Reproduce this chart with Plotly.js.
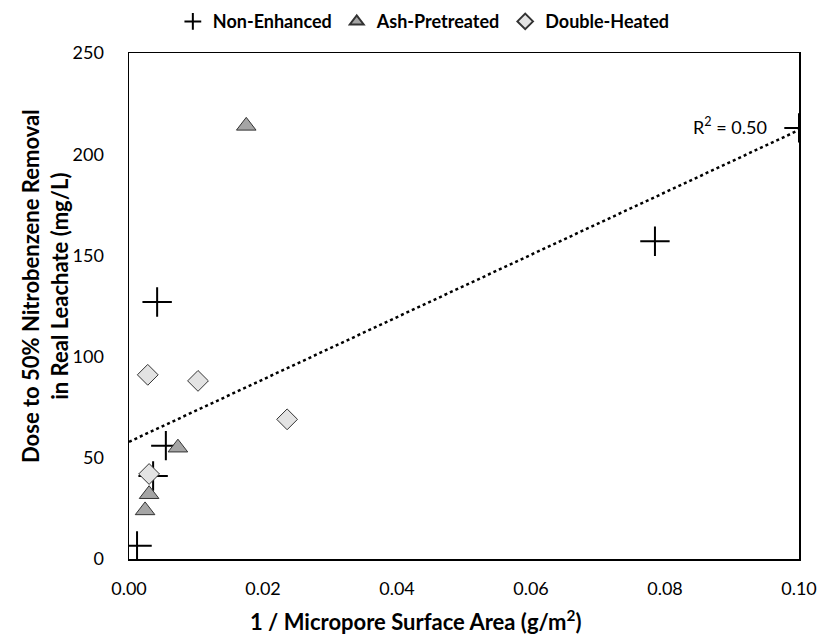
<!DOCTYPE html>
<html>
<head>
<meta charset="utf-8">
<script src="https://cdn.plot.ly/plotly-3.0.1.min.js"></script>
<style>html,body{margin:0;padding:0;background:#fff;}#chart{width:823px;height:637px;}</style>
</head>
<body>
<div id="chart"></div>
<script>
// Data
const nonEnhancedX = [0.0012, 0.0042, 0.0055, 0.0036, 0.0785, 0.1000];
const nonEnhancedY = [6.5, 127, 56, 41, 157, 213];
const ashX = [0.0175, 0.0073, 0.0030, 0.0024];
const ashY = [214, 55, 32, 24];
const doubleX = [0.0028, 0.0103, 0.0030, 0.0236];
const doubleY = [91, 88, 42, 69];
const seriesNames = ["Non-Enhanced", "Ash-Pretreated", "Double-Heated"];
const xTicks = [0, 0.02, 0.04, 0.06, 0.08, 0.10];
const xTickText = ["0.00", "0.02", "0.04", "0.06", "0.08", "0.10"];
const yTicks = [0, 50, 100, 150, 200, 250];
const xTitle = "1 / Micropore Surface Area (g/m<sup>2</sup>)";
const yTitle = "Dose to 50% Nitrobenzene Removal<br>in Real Leachate (mg/L)";

// Linear trendline over all points
const allX = nonEnhancedX.concat(ashX, doubleX);
const allY = nonEnhancedY.concat(ashY, doubleY);
const n = allX.length;
const mx = allX.reduce((a, b) => a + b, 0) / n;
const my = allY.reduce((a, b) => a + b, 0) / n;
let sxy = 0, sxx = 0, syy = 0;
for (let i = 0; i < n; i++) {
  sxy += (allX[i] - mx) * (allY[i] - my);
  sxx += (allX[i] - mx) ** 2;
  syy += (allY[i] - my) ** 2;
}
const slope = sxy / sxx;
const intercept = my - slope * mx;
const r2 = (sxy * sxy) / (sxx * syy);
const trendX = [0, 0.10];
const trendY = trendX.map(x => intercept + slope * x);

const font = "Lato, 'Open Sans', sans-serif";

const traces = [
  {
    x: trendX, y: trendY, mode: "lines", showlegend: false, hoverinfo: "skip",
    line: {color: "#000", width: 2.5, dash: "dot"}
  },
  {
    x: nonEnhancedX, y: nonEnhancedY, mode: "markers", name: seriesNames[0],
    marker: {symbol: "cross-thin-open", size: 21, color: "#000", line: {color: "#000", width: 2}}
  },
  {
    x: ashX, y: ashY, mode: "markers", name: seriesNames[1],
    marker: {symbol: "triangle-up", size: 17, color: "#a5a5a5", line: {color: "#333", width: 1}}
  },
  {
    x: doubleX, y: doubleY, mode: "markers", name: seriesNames[2],
    marker: {symbol: "diamond", size: 16, color: "#e3e3e3", line: {color: "#333", width: 1}}
  }
];

const layout = {
  width: 823, height: 637,
  margin: {l: 129, r: 24, t: 53, b: 78},
  paper_bgcolor: "#fff", plot_bgcolor: "#fff",
  font: {family: font, size: 18, color: "#000"},
  showlegend: true,
  legend: {
    orientation: "h", x: 0.515, xanchor: "center", y: 0.995, yanchor: "top",
    yref: "container", xref: "container",
    font: {family: font, size: 18, color: "#000", weight: "bold"},
    itemsizing: "constant", itemwidth: 30, tracegroupgap: 0
  },
  xaxis: {
    range: [0, 0.10], tickvals: xTicks, ticktext: xTickText,
    showgrid: false, zeroline: false, showline: true, mirror: true,
    linecolor: "#000", linewidth: 1.5, ticks: "outside", ticklen: 13, tickcolor: "rgba(0,0,0,0)",
    tickfont: {family: font, size: 18, color: "#000"}
  },
  yaxis: {
    range: [0, 250], tickvals: yTicks,
    showgrid: false, zeroline: false, showline: true, mirror: true,
    linecolor: "#000", linewidth: 1.5, ticks: "outside", ticklen: 20, tickcolor: "rgba(0,0,0,0)",
    tickfont: {family: font, size: 18, color: "#000"}
  },
  annotations: [
    {
      x: 0.0955, y: 214, xref: "x", yref: "y", xanchor: "right", yanchor: "middle",
      text: "R<sup>2</sup> = " + r2.toFixed(2), showarrow: false,
      font: {family: font, size: 18, color: "#000"}
    },
    {
      x: 0.428, y: -0.121, xref: "paper", yref: "paper", xanchor: "center", yanchor: "middle",
      text: xTitle, showarrow: false,
      font: {family: font, size: 22, color: "#000", weight: "bold"}
    },
    {
      x: -0.125, y: 0.54, xref: "paper", yref: "paper", xanchor: "center", yanchor: "middle",
      text: yTitle, showarrow: false, textangle: -90,
      font: {family: font, size: 22, color: "#000", weight: "bold"}
    }
  ]
};

Plotly.newPlot("chart", traces, layout, {displayModeBar: false, staticPlot: true});
</script>
</body>
</html>
